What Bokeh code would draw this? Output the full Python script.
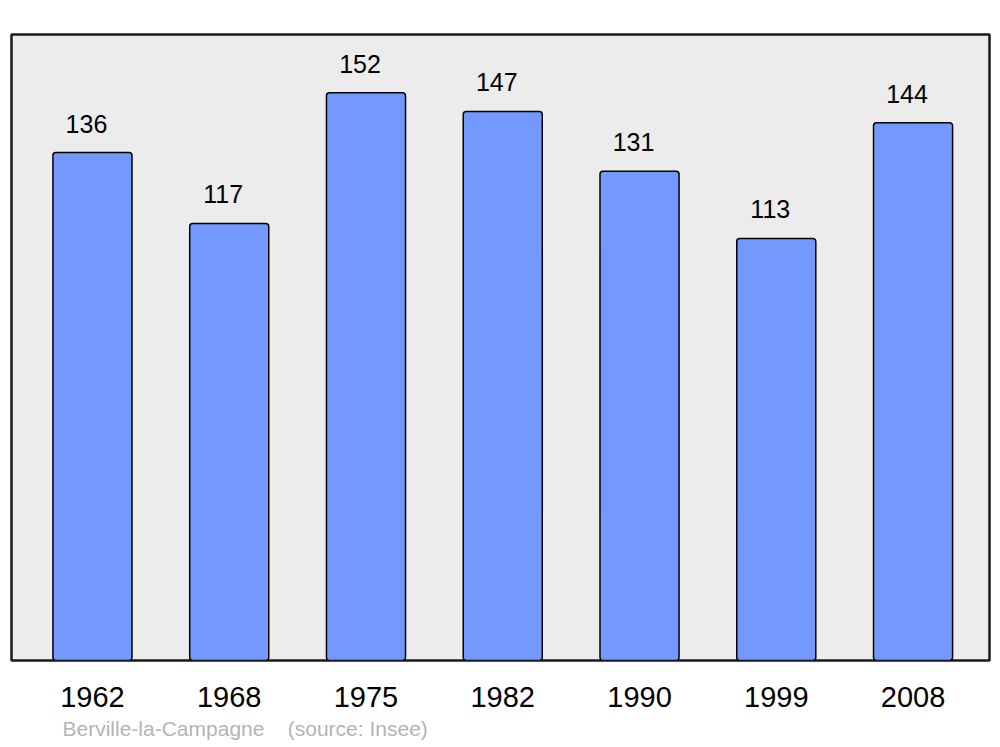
from bokeh.plotting import figure
from bokeh.models import ColumnDataSource, FixedTicker, Title, Range1d
from bokeh.embed import file_html
from bokeh.resources import INLINE

years = ["1962", "1968", "1975", "1982", "1990", "1999", "2008"]
population = [136, 117, 152, 147, 131, 113, 144]
commune = "Berville-la-Campagne"
source_note = "(source: Insee)"

FONT = "Liberation Sans"
idx = list(range(len(years)))
src = ColumnDataSource(dict(x=idx, top=population, label=[str(v) for v in population]))

p = figure(width=1000, height=747, output_backend="svg", toolbar_location=None,
           x_range=Range1d(-0.592, 6.559), y_range=Range1d(0, 167.6),
           min_border_left=11, min_border_right=11, min_border_top=34, min_border_bottom=87)
p.background_fill_color = "#ececec"
p.border_fill_color = "white"
p.outline_line_color = "#1a1a1a"
p.outline_line_width = 2.5
p.grid.visible = False
p.yaxis.visible = False

p.vbar(x="x", top="top", bottom=0, width=0.578, source=src,
       fill_color="#7399ff", line_color="black", line_width=1.5, border_radius=3)
p.text(x="x", y="top", text="label", source=src, x_offset=-6, y_offset=-20,
       text_align="center", text_baseline="bottom", text_font_size="25px",
       text_font={"value": FONT}, text_color="black")

ax = p.xaxis[0]
ax.ticker = FixedTicker(ticks=idx)
ax.major_label_overrides = {i: y for i, y in zip(idx, years)}
ax.axis_line_color = None
ax.major_tick_line_color = None
ax.minor_tick_line_color = None
ax.major_label_text_font_size = "29px"
ax.major_label_text_font = FONT
ax.major_label_text_color = "black"
ax.major_label_standoff = 20

t = Title(text=commune + "\u00a0\u00a0\u00a0\u00a0" + source_note, align="left", offset=51,
          text_font=FONT, text_font_size="21px", text_font_style="normal",
          text_color="#b4b4b4", standoff=10)
p.add_layout(t, "below")

open("out.html", "w").write(file_html(p, INLINE))
